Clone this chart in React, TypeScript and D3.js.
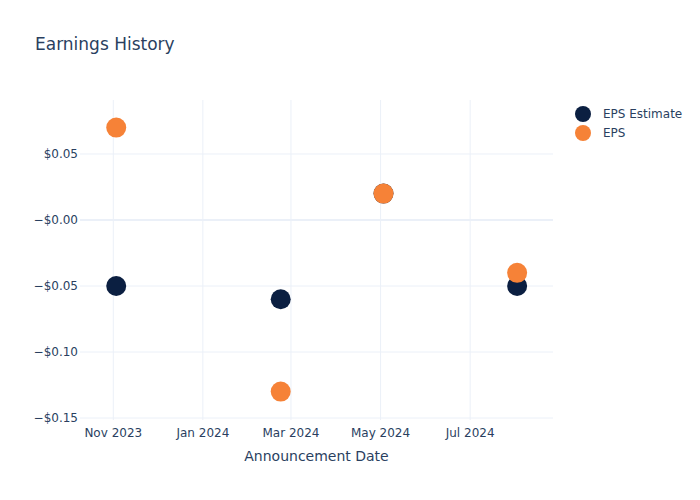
import React, { useEffect, useRef } from 'react';
import * as d3 from 'd3';

// announcement dates and EPS values
const dates = ['2023-11-03', '2024-02-23', '2024-05-03', '2024-08-02'];
const epsEstimate = [-0.05, -0.06, 0.02, -0.05];
const eps = [0.07, -0.13, 0.02, -0.04];

const yTicks = [0.05, 0, -0.05, -0.1, -0.15];
const yTickLabels = ['$0.05', '\u2212$0.00', '\u2212$0.05', '\u2212$0.10', '\u2212$0.15'];
const xTicks = ['2023-11-01', '2024-01-01', '2024-03-01', '2024-05-01', '2024-07-01'];
const xTickLabels = ['Nov 2023', 'Jan 2024', 'Mar 2024', 'May 2024', 'Jul 2024'];

const series = [
  { name: 'EPS Estimate', values: epsEstimate, color: '#0b1f41' },
  { name: 'EPS', values: eps, color: '#f68237' },
];

const W = 700;
const H = 500;
const margin = { top: 100, right: 147, bottom: 80, left: 80 };
const FONT = '"DejaVu Sans", Verdana, sans-serif';
const TEXT = '#2a3f5f';
const GRID = '#ebf0f8';

const App: React.FC = () => {
  const svgRef = useRef<SVGSVGElement>(null);

  useEffect(() => {
    document.body.style.margin = '0';
    if (!svgRef.current) return;
    const svg = d3.select(svgRef.current);
    svg.selectAll('*').remove();

    const parse = d3.timeParse('%Y-%m-%d');
    const x = d3.scaleTime()
      .domain([new Date(2023, 9, 9, 8), new Date(2024, 7, 26, 10)])
      .range([margin.left, W - margin.right]);
    const y = d3.scaleLinear()
      .domain([-0.1515, 0.0909])
      .range([H - margin.bottom, margin.top]);

    svg.append('rect').attr('width', W).attr('height', H).attr('fill', '#fff');

    // grid
    const grid = svg.append('g');
    xTicks.forEach(t => {
      const px = x(parse(t)!);
      grid.append('line')
        .attr('x1', px).attr('x2', px)
        .attr('y1', margin.top).attr('y2', H - margin.bottom)
        .attr('stroke', GRID).attr('stroke-width', 1);
    });
    yTicks.forEach(t => {
      grid.append('line')
        .attr('x1', margin.left).attr('x2', W - margin.right)
        .attr('y1', y(t)).attr('y2', y(t))
        .attr('stroke', GRID).attr('stroke-width', t === 0 ? 2 : 1);
    });

    // tick labels
    yTicks.forEach((t, i) => {
      svg.append('text')
        .attr('x', margin.left - 2).attr('y', y(t) + 4)
        .attr('text-anchor', 'end')
        .attr('font-family', FONT).attr('font-size', 12).attr('fill', TEXT)
        .text(yTickLabels[i]);
    });
    xTicks.forEach((t, i) => {
      svg.append('text')
        .attr('x', x(parse(t)!)).attr('y', H - margin.bottom + 17)
        .attr('text-anchor', 'middle')
        .attr('font-family', FONT).attr('font-size', 12).attr('fill', TEXT)
        .text(xTickLabels[i]);
    });

    // points
    series.forEach(s => {
      svg.append('g')
        .selectAll('circle')
        .data(s.values)
        .enter()
        .append('circle')
        .attr('cx', (_d, i) => x(parse(dates[i])!))
        .attr('cy', d => y(d))
        .attr('r', 10)
        .attr('fill', s.color);
    });

    // titles
    svg.append('text')
      .attr('x', 35).attr('y', 50)
      .attr('font-family', FONT).attr('font-size', 17).attr('fill', TEXT)
      .text('Earnings History');
    svg.append('text')
      .attr('x', (margin.left + W - margin.right) / 2).attr('y', 461)
      .attr('text-anchor', 'middle')
      .attr('font-family', FONT).attr('font-size', 14).attr('fill', TEXT)
      .text('Announcement Date');

    // legend
    series.forEach((s, i) => {
      const ly = 114 + i * 19;
      svg.append('circle').attr('cx', 583).attr('cy', ly).attr('r', 8).attr('fill', s.color);
      svg.append('text')
        .attr('x', 603).attr('y', ly + 4)
        .attr('font-family', FONT).attr('font-size', 12).attr('fill', TEXT)
        .text(s.name);
    });
  }, []);

  return <svg ref={svgRef} width={W} height={H} style={{ display: 'block' }} />;
};

export default App;
